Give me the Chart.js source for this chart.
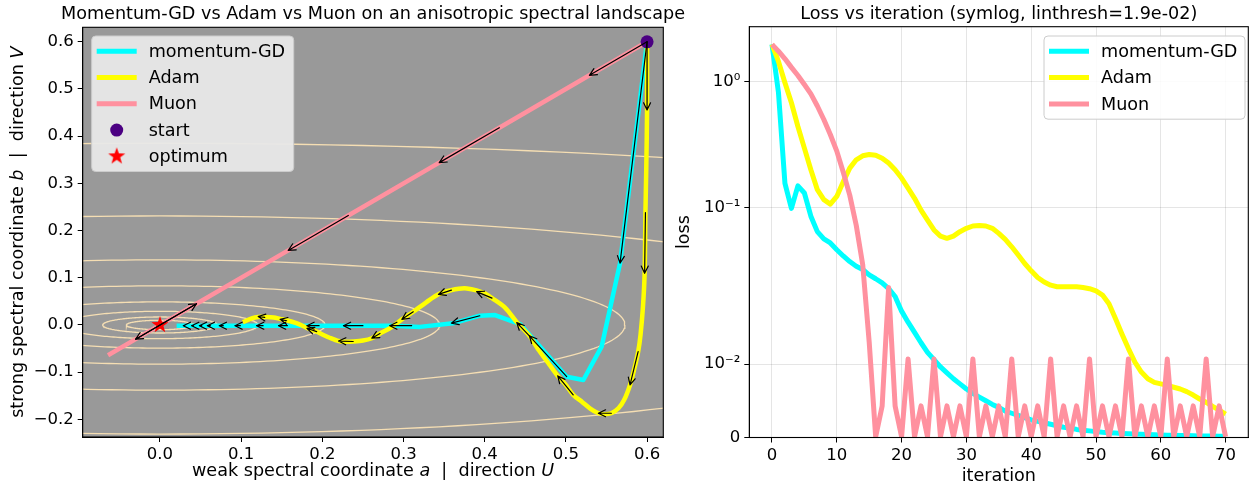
<!DOCTYPE html>
<html>
<head>
<meta charset="utf-8">
<script src="https://cdn.jsdelivr.net/npm/chart.js@4.4.0/dist/chart.umd.min.js"></script>
<style>
    body { margin: 0; background: #fff; width: 1258px; height: 487px; overflow: hidden; position: relative; }
    #left { position: absolute; left: 0; top: 0; width: 700px; height: 487px; }
    #right { position: absolute; left: 672px; top: 0; width: 586px; height: 487px; }
</style>
</head>
<body>
<div id="left"><canvas id="pathChart"></canvas></div>
<div id="right"><canvas id="lossChart"></canvas></div>
<script>
// ---- trajectories in the (a, b) spectral plane ----
const gdA = [0.600, 0.5667, 0.544, 0.5215, 0.501, 0.4435, 0.4127, 0.394, 0.361, 0.320, 0.289, 0.0205];
const gdB = [0.600, 0.131, -0.046, -0.1165, -0.1095, 0.002, 0.021, 0.0197, 0.0036, -0.004, -0.0015, -0.0015];

const adamA = [0.600, 0.600, 0.599, 0.598, 0.597, 0.595, 0.592, 0.589, 0.584, 0.579,
    0.572, 0.565, 0.556, 0.547, 0.540, 0.530, 0.520, 0.509, 0.499, 0.490,
    0.478, 0.466, 0.455, 0.440, 0.425, 0.409, 0.400, 0.390, 0.378, 0.368,
    0.359, 0.343, 0.328, 0.312, 0.298, 0.285, 0.271, 0.261, 0.250, 0.238,
    0.228, 0.220, 0.209, 0.200, 0.193, 0.181, 0.168, 0.156, 0.148, 0.140,
    0.129, 0.121, 0.113, 0.102];
const adamB = [0.600, 0.456, 0.330, 0.238, 0.110, 0.040, -0.020, -0.057, -0.095, -0.127,
    -0.158, -0.176, -0.187, -0.189, -0.187, -0.177, -0.163, -0.148, -0.125, -0.108,
    -0.080, -0.052, -0.023, 0.005, 0.037, 0.057, 0.067, 0.0735, 0.0775, 0.077,
    0.074, 0.065, 0.048, 0.028, 0.012, -0.005, -0.018, -0.028, -0.033, -0.035,
    -0.0355, -0.034, -0.027, -0.020, -0.014, -0.006, 0.004, 0.010, 0.013, 0.016,
    0.017, 0.017, 0.014, 0.006];

const muonA = [0.600, 0.529, 0.418, 0.344, 0.232, 0.158, 0.045, -0.030, -0.064];
const muonB = [0.600, 0.529, 0.418, 0.344, 0.232, 0.158, 0.045, -0.030, -0.064];

// step arrows [a0, b0, a1, b1]
const gdArrows = [
    [0.600, 0.600, 0.5667, 0.131],
    [0.501, -0.1095, 0.455, -0.023],
    [0.394, 0.0195, 0.359, 0.004],
    [0.310, -0.0015, 0.283, -0.0015],
    [0.250, -0.0015, 0.226, -0.0015],
    [0.196, -0.0015, 0.181, -0.0015],
    [0.157, -0.0015, 0.146, -0.0015],
    [0.127, -0.0015, 0.119, -0.0015],
    [0.099, -0.0015, 0.0924, -0.0015],
    [0.078, -0.0015, 0.073, -0.0015],
    [0.062, -0.0015, 0.0583, -0.0015],
    [0.0515, -0.0015, 0.0485, -0.0015],
    [0.0413, -0.0015, 0.039, -0.0015],
    [0.0305, -0.0015, 0.0287, -0.0015]
];
const adamArrows = [
    [0.600, 0.600, 0.600, 0.4555],
    [0.598, 0.238, 0.597, 0.1095],
    [0.589, -0.0565, 0.579, -0.127],
    [0.556, -0.187, 0.540, -0.187],
    [0.509, -0.148, 0.490, -0.108],
    [0.455, -0.023, 0.4395, 0.005],
    [0.409, 0.057, 0.390, 0.0706],
    [0.359, 0.074, 0.343, 0.065],
    [0.312, 0.028, 0.298, 0.012],
    [0.271, -0.018, 0.261, -0.028],
    [0.238, -0.035, 0.220, -0.034],
    [0.193, -0.014, 0.181, -0.007],
    [0.156, 0.009, 0.148, 0.012],
    [0.129, 0.016, 0.121, 0.018]
];
const muonArrows = [
    [0.600, 0.600, 0.529, 0.529],
    [0.418, 0.418, 0.344, 0.344],
    [0.232, 0.232, 0.158, 0.158],
    [0.045, 0.045, -0.030, -0.030],
    [-0.030, -0.030, 0.045, 0.045]
];

const startPt = [0.6, 0.6];
const optimumPt = [0.0, 0.0];

// loss contours: semi-axis along b, and a/b axis ratio
const contourB = [0.385, 0.231, 0.138, 0.083, 0.049, 0.029, 0.017, 0.010];
const contourAspect = 4.15;

const pathXTicks = [0.0, 0.1, 0.2, 0.3, 0.4, 0.5, 0.6];
const pathYTicks = [-0.2, -0.1, 0.0, 0.1, 0.2, 0.3, 0.4, 0.5, 0.6];

// ---- loss per iteration ----
const iterations = Array.from({ length: 71 }, (_, i) => i);
const gdLoss = [1.98, 0.82, 0.155, 0.098, 0.148, 0.13, 0.085, 0.064, 0.056, 0.052,
    0.046, 0.041, 0.037, 0.034, 0.032, 0.029, 0.027, 0.025, 0.0225, 0.0195,
    0.0172, 0.0157, 0.0143, 0.0129, 0.0116, 0.0106, 0.0096, 0.0088, 0.0080, 0.0073,
    0.0066, 0.0060, 0.0055, 0.0050, 0.0045, 0.0041, 0.0036, 0.0033, 0.0030, 0.0027,
    0.0024, 0.0022, 0.0020, 0.0018, 0.0016, 0.0014, 0.0013, 0.0011, 0.0010, 0.0009,
    0.0008, 0.00072, 0.00066, 0.0006, 0.00055, 0.0005, 0.00046, 0.00043, 0.0004, 0.00037,
    0.00034, 0.00032, 0.0003, 0.00028, 0.00026, 0.00024, 0.00022, 0.0002, 0.00019, 0.00018,
    0.00017];
const adamLoss = [1.98, 1.45, 0.98, 0.68, 0.44, 0.296, 0.199, 0.138, 0.115, 0.106,
    0.122, 0.16, 0.205, 0.239, 0.257, 0.263, 0.26, 0.246, 0.225, 0.199,
    0.171, 0.142, 0.118, 0.095, 0.079, 0.066, 0.059, 0.0566, 0.059, 0.064,
    0.068, 0.071, 0.0715, 0.071, 0.068, 0.062, 0.0556, 0.0485, 0.0417, 0.0357,
    0.0312, 0.0276, 0.0254, 0.024, 0.0233, 0.0233, 0.0233, 0.0233, 0.023, 0.0225,
    0.0216, 0.020, 0.0182, 0.0162, 0.0141, 0.0121, 0.01025, 0.0089, 0.0080, 0.0075,
    0.0073, 0.0071, 0.00684, 0.0066, 0.00624, 0.00578, 0.00524, 0.00479, 0.00424, 0.00373,
    0.00319];
const muonLoss = [1.98, 1.75, 1.52, 1.30, 1.12, 0.95, 0.80, 0.64, 0.50, 0.38,
    0.28, 0.19, 0.125, 0.072, 0.035, 0.013, 0.0001, 0.0043, 0.023, 0.0043,
    0.0001, 0.0107, 0.0001, 0.0043, 0.0001, 0.0107, 0.0001, 0.0043, 0.0001, 0.0043,
    0.0001, 0.0107, 0.0001, 0.0043, 0.0001, 0.0043, 0.0001, 0.0107, 0.0001, 0.0043,
    0.0001, 0.0043, 0.0001, 0.0107, 0.0001, 0.0043, 0.0001, 0.0043, 0.0001, 0.0107,
    0.0001, 0.0043, 0.0001, 0.0043, 0.0001, 0.0107, 0.0001, 0.0043, 0.0001, 0.0043,
    0.0001, 0.0107, 0.0001, 0.0043, 0.0001, 0.0043, 0.0001, 0.0107, 0.0001, 0.0043,
    0.0001];

const iterTicks = [0, 10, 20, 30, 40, 50, 60, 70];
const lossTicks = [0, 0.01, 0.1, 1];
const lossTickLabels = ['0', '10\u207B\u00B2', '10\u207B\u00B9', '10\u2070'];
const linthresh = 0.019;

// ---- styling ----
const FONT = 'DejaVu Sans';
const C_GD = '#00ffff';
const C_ADAM = '#ffff00';
const C_MUON = '#ff919f';
const TEXT_PX = 17.6;

const linscale = 1 / (1 - 1 / 10);
function symlog(v) {
    return v <= linthresh ? v / linthresh * linscale : linscale + Math.log10(v / linthresh);
}

function xy(as, bs) {
    return as.map((a, i) => ({ x: a, y: bs[i] }));
}

function ellipse(bSemi) {
    const pts = [];
    for (let k = 0; k <= 240; k++) {
        const t = k / 240 * 2 * Math.PI;
        pts.push({ x: bSemi * contourAspect * Math.cos(t), y: bSemi * Math.sin(t) });
    }
    return pts;
}

// red five point star used for the optimum marker
function starImage(r) {
    const c = document.createElement('canvas');
    c.width = c.height = Math.ceil(r * 2 + 2);
    const g = c.getContext('2d');
    const cx = c.width / 2, cy = c.height / 2;
    g.beginPath();
    for (let k = 0; k < 10; k++) {
        const rad = k % 2 === 0 ? r : r * 0.4;
        const ang = -Math.PI / 2 + k * Math.PI / 5;
        g.lineTo(cx + rad * Math.cos(ang), cy + rad * Math.sin(ang));
    }
    g.closePath();
    g.fillStyle = '#ff0000';
    g.fill();
    return c;
}
const star = starImage(9);

// gray plot background, a full box around the axes, title centred on the axes
const plotFrame = {
    id: 'plotFrame',
    beforeDraw(chart, args, opts) {
        if (!opts.background) return;
        const { ctx, chartArea: a } = chart;
        ctx.save();
        ctx.fillStyle = opts.background;
        ctx.fillRect(a.left, a.top, a.width, a.height);
        ctx.restore();
    },
    afterDraw(chart, args, opts) {
        const { ctx, chartArea: a } = chart;
        ctx.save();
        ctx.strokeStyle = '#000';
        ctx.lineWidth = 1.1;
        ctx.strokeRect(a.left, a.top, a.width, a.height);
        if (opts.title) {
            ctx.font = TEXT_PX + 'px "' + FONT + '"';
            ctx.fillStyle = '#000';
            ctx.textAlign = 'center';
            ctx.textBaseline = 'middle';
            ctx.fillText(opts.title, (a.left + a.right) / 2, 14);
        }
        ctx.restore();
    }
};

// black step arrows on top of the paths
const quiver = {
    id: 'quiver',
    afterDatasetsDraw(chart) {
        const { ctx, chartArea: area, scales: { x, y } } = chart;
        ctx.save();
        ctx.beginPath();
        ctx.rect(area.left, area.top, area.width, area.height);
        ctx.clip();
        ctx.strokeStyle = '#000';
        ctx.lineWidth = 1.2;
        ctx.lineCap = 'round';
        chart.data.datasets.forEach(ds => {
            (ds.arrows || []).forEach(([a0, b0, a1, b1]) => {
                const x0 = x.getPixelForValue(a0), y0 = y.getPixelForValue(b0);
                const x1 = x.getPixelForValue(a1), y1 = y.getPixelForValue(b1);
                const ang = Math.atan2(y1 - y0, x1 - x0);
                ctx.beginPath();
                ctx.moveTo(x0, y0);
                ctx.lineTo(x1, y1);
                [-1, 1].forEach(s => {
                    ctx.moveTo(x1, y1);
                    ctx.lineTo(x1 - 8 * Math.cos(ang + s * 0.45), y1 - 8 * Math.sin(ang + s * 0.45));
                });
                ctx.stroke();
            });
        });
        ctx.restore();
    }
};

// matplotlib style legend box
const boxLegend = {
    id: 'boxLegend',
    afterDraw(chart, args, opts) {
        const { ctx, chartArea: area } = chart;
        const items = chart.data.datasets.filter(d => d.legendKind);
        const h = items.length * opts.rowHeight + 2 * opts.pad;
        const x0 = opts.fromRight ? area.right - opts.offsetX - opts.width : area.left + opts.offsetX;
        const y0 = area.top + opts.offsetY;
        ctx.save();
        ctx.beginPath();
        ctx.roundRect(x0, y0, opts.width, h, 4);
        ctx.fillStyle = opts.background;
        ctx.fill();
        ctx.strokeStyle = '#cccccc';
        ctx.lineWidth = 1;
        ctx.stroke();
        ctx.font = TEXT_PX + 'px "' + FONT + '"';
        ctx.textBaseline = 'middle';
        items.forEach((d, i) => {
            const cy = y0 + opts.pad + opts.rowHeight * (i + 0.5);
            const sx = x0 + 5;
            if (d.legendKind === 'line') {
                ctx.beginPath();
                ctx.moveTo(sx, cy);
                ctx.lineTo(sx + 40, cy);
                ctx.strokeStyle = d.borderColor;
                ctx.lineWidth = 5;
                ctx.stroke();
            } else if (d.legendKind === 'circle') {
                ctx.beginPath();
                ctx.arc(sx + 20, cy, 6.5, 0, 2 * Math.PI);
                ctx.fillStyle = d.backgroundColor;
                ctx.fill();
            } else if (d.legendKind === 'star') {
                ctx.drawImage(star, sx + 20 - star.width / 2, cy - star.height / 2);
            }
            ctx.fillStyle = '#000';
            ctx.fillText(d.label, x0 + 57, cy + 1);
        });
        ctx.restore();
    }
};

// axis labels with italic math parts
const richLabels = {
    id: 'richLabels',
    afterDraw(chart, args, opts) {
        const { ctx, chartArea: a } = chart;
        const fontOf = p => (p[1] ? 'italic ' : '') + TEXT_PX + 'px "' + FONT + '"';
        const draw = (parts, cx, cy, rot) => {
            ctx.save();
            ctx.translate(cx, cy);
            ctx.rotate(rot);
            let w = 0;
            parts.forEach(p => { ctx.font = fontOf(p); w += ctx.measureText(p[0]).width; });
            let x = -w / 2;
            ctx.textBaseline = 'middle';
            ctx.fillStyle = '#000';
            parts.forEach(p => {
                ctx.font = fontOf(p);
                ctx.fillText(p[0], x, 0);
                x += ctx.measureText(p[0]).width;
            });
            ctx.restore();
        };
        draw(opts.xParts, (a.left + a.right) / 2, opts.xY, 0);
        draw(opts.yParts, opts.yX, (a.top + a.bottom) / 2, -Math.PI / 2);
    }
};

const tickFont = { family: FONT, size: 16.5 };
const fmt1 = v => v.toFixed(1).replace('-', '\u2212');

// ---- left: optimizer paths ----
const contourSets = contourB.map(b => ({
    data: ellipse(b),
    showLine: true,
    borderColor: '#f5deb3',
    borderWidth: 1.3,
    pointRadius: 0,
    order: 10
}));

new Chart(document.getElementById('pathChart'), {
    type: 'scatter',
    data: {
        datasets: [
            ...contourSets,
            {
                label: 'momentum-GD', legendKind: 'line', data: xy(gdA, gdB), arrows: gdArrows,
                showLine: true, borderColor: C_GD, borderWidth: 4.5, pointRadius: 0,
                borderJoinStyle: 'round', order: 3
            },
            {
                label: 'Adam', legendKind: 'line', data: xy(adamA, adamB), arrows: adamArrows,
                showLine: true, borderColor: C_ADAM, borderWidth: 4.5, pointRadius: 0,
                borderJoinStyle: 'round', tension: 0.3, order: 2
            },
            {
                label: 'Muon', legendKind: 'line', data: xy(muonA, muonB), arrows: muonArrows,
                showLine: true, borderColor: C_MUON, borderWidth: 4.5, pointRadius: 0, order: 1
            },
            {
                label: 'start', legendKind: 'circle', data: [{ x: startPt[0], y: startPt[1] }],
                backgroundColor: '#4b0082', borderWidth: 0, pointRadius: 6.5, order: 0
            },
            {
                label: 'optimum', legendKind: 'star', data: [{ x: optimumPt[0], y: optimumPt[1] }],
                pointStyle: star, pointRadius: 9, order: 0
            }
        ]
    },
    options: {
        responsive: true,
        maintainAspectRatio: false,
        animation: false,
        layout: { padding: { top: 27.3, right: 36.7 } },
        plugins: {
            legend: { display: false },
            tooltip: { enabled: false },
            title: { display: false },
            plotFrame: { background: '#999999', title: 'Momentum-GD vs Adam vs Muon on an anisotropic spectral landscape' },
            boxLegend: { fromRight: false, offsetX: 9, offsetY: 8.7, width: 202, rowHeight: 26.3, pad: 2, background: 'rgba(232,232,232,0.95)' },
            richLabels: {
                xParts: [['weak spectral coordinate ', false], ['a', true], ['  |  direction ', false], ['U', true]],
                xY: 471,
                yParts: [['strong spectral coordinate ', false], ['b', true], ['  |  direction ', false], ['V', true]],
                yX: 18
            }
        },
        scales: {
            x: {
                type: 'linear', min: -0.0952, max: 0.62,
                afterBuildTicks: s => { s.ticks = pathXTicks.map(v => ({ value: v })); },
                afterFit: s => { s.height = 50; },
                grid: { drawOnChartArea: false, tickLength: 5, tickColor: '#000' },
                border: { color: '#000' },
                ticks: { font: tickFont, color: '#000', padding: 3, autoSkip: false, maxRotation: 0, callback: v => fmt1(v) }
            },
            y: {
                type: 'linear', min: -0.2373, max: 0.6307,
                afterBuildTicks: s => { s.ticks = pathYTicks.map(v => ({ value: v })); },
                afterFit: s => { s.width = 82.7; },
                grid: { drawOnChartArea: false, tickLength: 5, tickColor: '#000' },
                border: { color: '#000' },
                ticks: { font: tickFont, color: '#000', padding: 4, autoSkip: false, callback: v => fmt1(v) }
            }
        }
    },
    plugins: [plotFrame, quiver, boxLegend, richLabels]
});

// ---- right: loss vs iteration on a symlog axis ----
const lossSet = (label, values, color, order) => ({
    label: label, legendKind: 'line',
    data: iterations.map((it, i) => ({ x: it, y: symlog(values[i]) })),
    showLine: true, borderColor: color, borderWidth: 5, pointRadius: 0,
    borderJoinStyle: 'round', order: order
});

new Chart(document.getElementById('lossChart'), {
    type: 'scatter',
    data: {
        datasets: [
            lossSet('momentum-GD', gdLoss, C_GD, 3),
            lossSet('Adam', adamLoss, C_ADAM, 2),
            lossSet('Muon', muonLoss, C_MUON, 1)
        ]
    },
    options: {
        responsive: true,
        maintainAspectRatio: false,
        animation: false,
        layout: { padding: { top: 26.7, right: 9.7 } },
        plugins: {
            legend: { display: false },
            tooltip: { enabled: false },
            title: { display: false },
            plotFrame: { title: 'Loss vs iteration (symlog, linthresh=1.9e-02)' },
            boxLegend: { fromRight: true, offsetX: 3.3, offsetY: 9.3, width: 201, rowHeight: 26.4, pad: 2, background: 'rgba(255,255,255,0.85)' }
        },
        scales: {
            x: {
                type: 'linear', min: -3.5, max: 73.5,
                afterBuildTicks: s => { s.ticks = iterTicks.map(v => ({ value: v })); },
                afterFit: s => { s.height = 49.5; },
                grid: { color: 'rgba(0,0,0,0.1)', tickLength: 5, tickColor: '#000' },
                border: { color: '#000' },
                ticks: { font: tickFont, color: '#000', padding: 3, autoSkip: false, maxRotation: 0 },
                title: { display: true, text: 'iteration', font: { family: FONT, size: TEXT_PX }, color: '#000', padding: { top: 0, bottom: 0.4 } }
            },
            y: {
                type: 'linear', min: 0, max: 3.27,
                afterBuildTicks: s => { s.ticks = lossTicks.map(v => ({ value: symlog(v) })); },
                afterFit: s => { s.width = 77.3; },
                grid: { color: 'rgba(0,0,0,0.1)', tickLength: 5, tickColor: '#000' },
                border: { color: '#000' },
                ticks: { font: tickFont, color: '#000', padding: 4, autoSkip: false, callback: (v, i) => lossTickLabels[i] },
                title: { display: true, text: 'loss', font: { family: FONT, size: TEXT_PX }, color: '#000', padding: { top: 1.4, bottom: 0 } }
            }
        }
    },
    plugins: [plotFrame, boxLegend]
});
</script>
</body>
</html>
